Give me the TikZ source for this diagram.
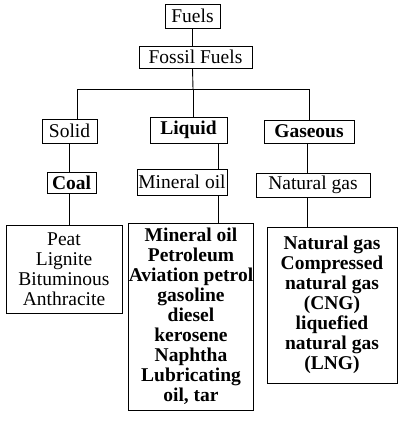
\documentclass[tikz,border=0pt]{standalone}
\usepackage{fontspec}
\setmainfont{Liberation Serif}
\usepackage{tikz}
\usetikzlibrary{shapes,arrows}

\begin{document}
\begin{tikzpicture}[x=1pt, y=-1pt,
    box/.style={rectangle, draw = black, line width=0.8pt, inner sep=0pt, align=center, font=\fontsize{19.5}{20}\selectfont},
    listbox/.style={box, font=\fontsize{19.5}{20}\selectfont},
    link/.style={line width=0.9pt}]
    		\useasboundingbox (0,0) rectangle (406,433);
    		
    		\node (fu)[box, minimum width=55pt, minimum height=24pt] at (192.5,16) {Fuels};
    		\node (ff)[box, minimum width=113pt, minimum height=22pt] at (195.5,57) {Fossil Fuels};
    		\coordinate (hub) at (193,89);
    		
    		\node (sol)[box, minimum width=55pt, minimum height=24pt] at (69.5,131) {Solid};
    		\node (liq)[box, minimum width=77pt, minimum height=26pt] at (188.5,130) {\textbf{Liquid}};
    		\node (gas)[box, minimum width=90pt, minimum height=23pt] at (309,131.5) {\textbf{Gaseous}};
    		
        	\node (coal)[box, minimum width=49pt, minimum height=21pt] at (71.5,182.5) {\textbf{Coal}};
        	\node (mo)[box, minimum width=90pt, minimum height=26pt] at (182,182) {Mineral oil};
        	\node (ng)[box, minimum width=114pt, minimum height=24pt] at (313,185) {Natural gas};
        	
        	\node (coallist)[listbox, minimum width=116pt, minimum height=88pt] at (64,269) {Peat\\Lignite\\Bituminous\\Anthracite};
        	\node (oillist)[listbox, minimum width=124pt, minimum height=187pt, font=\fontsize{19.5}{20}\selectfont\bfseries] at (191,316.5) {Mineral oil\\Petroleum\\Aviation petrol\\gasoline\\diesel\\kerosene\\Naphtha\\Lubricating\\oil, tar};
        	\node (gaslist)[listbox, minimum width=130pt, minimum height=156pt, font=\fontsize{19.5}{20}\selectfont\bfseries] at (332,305) {Natural gas\\Compressed\\natural gas\\(CNG)\\liquefied\\natural gas\\(LNG)};
        	
        	\draw[link] (fu.south) -- (fu.south |- ff.north);
        	\draw[link] (fu.south |- ff.south) -- (hub);
        	\draw[link] (hub) -| ([xshift=7.5pt]sol.north);
        	\draw[link] (hub) -- (hub |- liq.north);
        	\draw[link] (hub) -| (gas.north);
        	
        	\draw[link] (sol.south) -- (sol.south |- coal.north);
        	\draw[link] (liq.south -| mo.20) -- (mo.20 |- mo.north);
        	\draw[link] ([xshift=-2pt]gas.south) -- ([xshift=-2pt]gas.south |- ng.north);
        	
        	\draw[link] (coal.south -| sol.south) -- (sol.south |- coallist.north);
        	\draw[link] (mo.south -| mo.20) -- (mo.20 |- oillist.north);
        	\draw[link] ([xshift=-2pt]gas.south |- ng.south) -- ([xshift=-2pt]gas.south |- gaslist.north);
    	\end{tikzpicture}
\end{document}
